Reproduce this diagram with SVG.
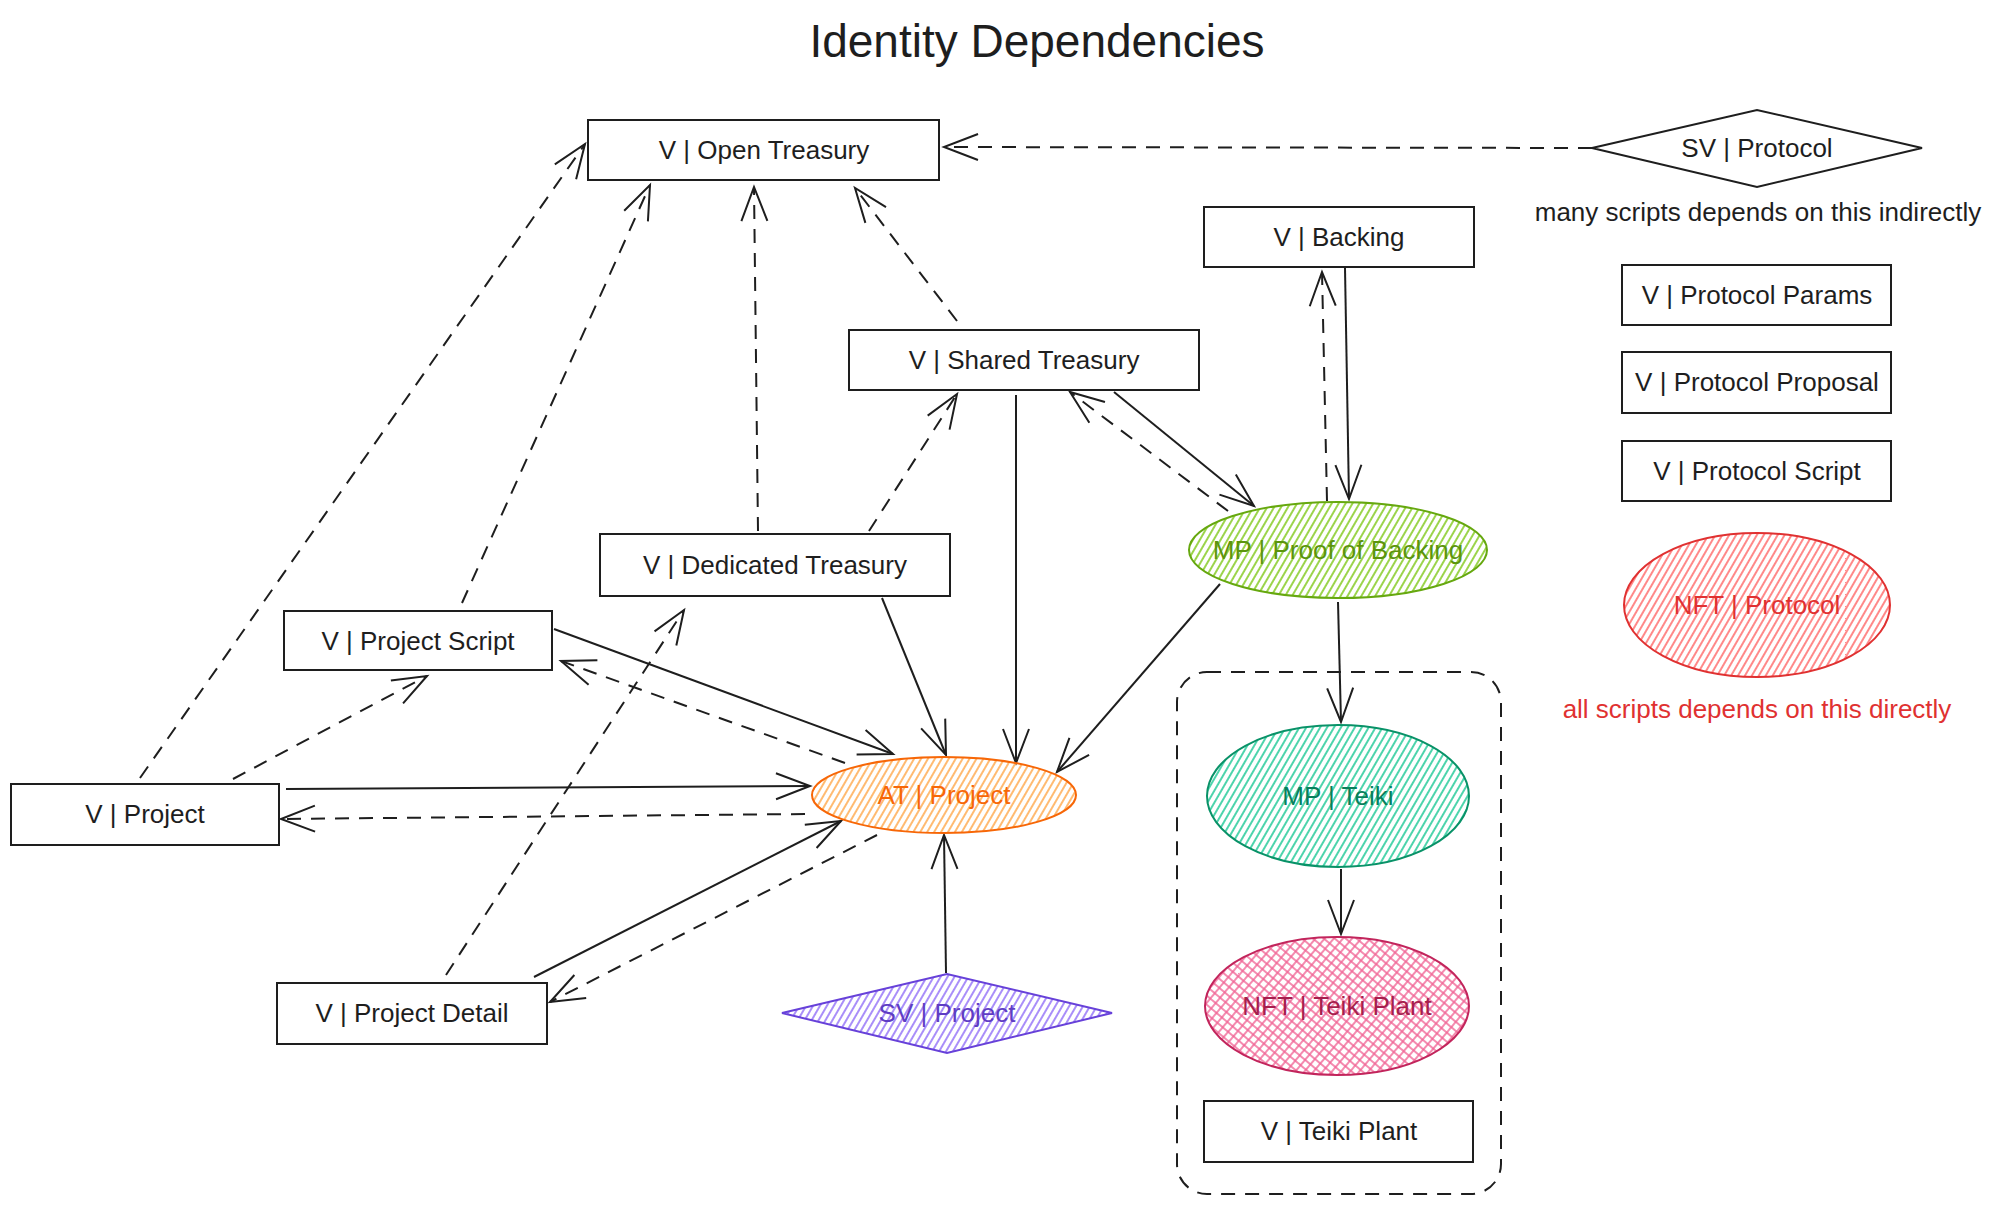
<svg xmlns="http://www.w3.org/2000/svg" width="2000" height="1206" viewBox="0 0 2000 1206">
<style>
text{font-family:"Liberation Sans","DejaVu Sans",sans-serif;font-size:26px;text-anchor:middle;fill:#1e1e1e}
.title{font-size:46px}
.box{fill:#fff;stroke:#1e1e1e;stroke-width:2}
.c{fill:none;stroke:#1e1e1e;stroke-width:2;marker-end:url(#ah)}
.d{stroke-dasharray:14 10}
.grp{fill:none;stroke:#1e1e1e;stroke-width:2;stroke-dasharray:14 10}
</style>
<defs>
<marker id="ah" markerUnits="userSpaceOnUse" markerWidth="40" markerHeight="32" refX="37" refY="16" orient="auto" viewBox="0 0 40 32">
<path d="M3,3 L37,16 L3,29" fill="none" stroke="#1e1e1e" stroke-width="2"/>
</marker>
<pattern id="hOr" patternUnits="userSpaceOnUse" width="6" height="6" patternTransform="rotate(30)"><line x1="1" y1="0" x2="1" y2="6" stroke="#ffa94d" stroke-width="1.6"/></pattern>
<pattern id="hGr" patternUnits="userSpaceOnUse" width="6" height="6" patternTransform="rotate(30)"><line x1="1" y1="0" x2="1" y2="6" stroke="#82c91e" stroke-width="1.6"/></pattern>
<pattern id="hTe" patternUnits="userSpaceOnUse" width="6" height="6" patternTransform="rotate(30)"><line x1="1" y1="0" x2="1" y2="6" stroke="#20c997" stroke-width="1.6"/></pattern>
<pattern id="hRe" patternUnits="userSpaceOnUse" width="6" height="6" patternTransform="rotate(30)"><line x1="1" y1="0" x2="1" y2="6" stroke="#ff6b6b" stroke-width="1.6"/></pattern>
<pattern id="hVi" patternUnits="userSpaceOnUse" width="6" height="6" patternTransform="rotate(30)"><line x1="1" y1="0" x2="1" y2="6" stroke="#845ef7" stroke-width="1.4"/></pattern>
<pattern id="hCr" patternUnits="userSpaceOnUse" width="7" height="7" patternTransform="rotate(40)"><line x1="1" y1="0" x2="1" y2="7" stroke="#f06595" stroke-width="1.5"/><line x1="0" y1="1" x2="7" y2="1" stroke="#f06595" stroke-width="1.5"/></pattern>
</defs>
<rect width="2000" height="1206" fill="#fff"/>

<text class="title" x="1037" y="57">Identity Dependencies</text>

<g id="connectors">
<line class="c d" x1="1592" y1="148" x2="944" y2="147"/>
<line class="c d" x1="140" y1="778" x2="585" y2="144"/>
<line class="c d" x1="462" y1="603" x2="650" y2="185"/>
<line class="c d" x1="758" y1="531" x2="754" y2="187"/>
<line class="c d" x1="957" y1="321" x2="855" y2="188"/>
<line class="c d" x1="869" y1="531" x2="957" y2="394"/>
<line class="c" x1="1016" y1="395" x2="1016" y2="763"/>
<line class="c" x1="1114" y1="392" x2="1254" y2="506"/>
<line class="c d" x1="1228" y1="511" x2="1070" y2="392"/>
<line class="c" x1="1345" y1="268" x2="1349" y2="499"/>
<line class="c d" x1="1327" y1="501" x2="1322" y2="272"/>
<line class="c" x1="1220" y1="584" x2="1057" y2="772"/>
<line class="c" x1="1338" y1="602" x2="1341" y2="722"/>
<line class="c" x1="1341" y1="869" x2="1341" y2="934"/>
<line class="c" x1="882" y1="598" x2="946" y2="755"/>
<line class="c" x1="554" y1="629" x2="893" y2="754"/>
<line class="c d" x1="845" y1="763" x2="561" y2="661"/>
<line class="c d" x1="233" y1="779" x2="427" y2="676"/>
<line class="c" x1="286" y1="789" x2="810" y2="786"/>
<line class="c d" x1="805" y1="814" x2="281" y2="819"/>
<line class="c d" x1="446" y1="975" x2="684" y2="610"/>
<line class="c" x1="534" y1="977" x2="841" y2="821"/>
<line class="c d" x1="877" y1="835" x2="550" y2="1002"/>
<line class="c" x1="946" y1="973" x2="944" y2="835"/>
</g>

<g id="open-treasury"><rect class="box" x="588" y="120" width="351" height="60"/><text x="764" y="159">V | Open Treasury</text></g>
<g id="sv-protocol"><polygon points="1592,148 1757,110 1922,148 1757,187" fill="#fff" stroke="#1e1e1e" stroke-width="2"/><text x="1757" y="157">SV | Protocol</text></g>
<text x="1758" y="221">many scripts depends on this indirectly</text>
<g id="backing"><rect class="box" x="1204" y="207" width="270" height="60"/><text x="1339" y="246">V | Backing</text></g>
<g id="protocol-params"><rect class="box" x="1622" y="265" width="269" height="60"/><text x="1757" y="304">V | Protocol Params</text></g>
<g id="protocol-proposal"><rect class="box" x="1622" y="352" width="269" height="61"/><text x="1757" y="391">V | Protocol Proposal</text></g>
<g id="protocol-script"><rect class="box" x="1622" y="441" width="269" height="60"/><text x="1757" y="480">V | Protocol Script</text></g>
<g id="nft-protocol"><ellipse cx="1757" cy="605" rx="133" ry="72" fill="url(#hRe)" stroke="#e03131" stroke-width="2"/><text x="1757" y="614" style="fill:#e03131">NFT | Protocol</text></g>
<text x="1757" y="718" style="fill:#e03131">all scripts depends on this directly</text>
<g id="shared-treasury"><rect class="box" x="849" y="330" width="350" height="60"/><text x="1024" y="369">V | Shared Treasury</text></g>
<g id="proof-of-backing"><ellipse cx="1338" cy="550" rx="149" ry="48" fill="url(#hGr)" stroke="#66a80f" stroke-width="2"/><text x="1338" y="559" style="fill:#5c940d">MP | Proof of Backing</text></g>
<g id="dedicated-treasury"><rect class="box" x="600" y="534" width="350" height="62"/><text x="775" y="574">V | Dedicated Treasury</text></g>
<g id="project-script"><rect class="box" x="284" y="611" width="268" height="59"/><text x="418" y="650">V | Project Script</text></g>
<g id="project"><rect class="box" x="11" y="784" width="268" height="61"/><text x="145" y="823">V | Project</text></g>
<g id="at-project"><ellipse cx="944" cy="795" rx="132" ry="38" fill="url(#hOr)" stroke="#f76707" stroke-width="2"/><text x="944" y="804" style="fill:#f76707">AT | Project</text></g>
<g id="project-detail"><rect class="box" x="277" y="983" width="270" height="61"/><text x="412" y="1022">V | Project Detail</text></g>
<g id="sv-project"><polygon points="782,1013 947,974 1112,1013 947,1053" fill="url(#hVi)" stroke="#6741d9" stroke-width="2"/><text x="947" y="1022" style="fill:#5f3dc4">SV | Project</text></g>
<g id="teiki-group"><rect class="grp" x="1177" y="672" width="324" height="522" rx="30"/></g>
<g id="mp-teiki"><ellipse cx="1338" cy="796" rx="131" ry="71" fill="url(#hTe)" stroke="#099268" stroke-width="2"/><text x="1338" y="805" style="fill:#087f5b">MP | Teiki</text></g>
<g id="nft-teiki-plant"><ellipse cx="1337" cy="1006" rx="132" ry="69" fill="url(#hCr)" stroke="#c2255c" stroke-width="2"/><text x="1337" y="1015" style="fill:#a61e4d">NFT | Teiki Plant</text></g>
<g id="v-teiki-plant"><rect class="box" x="1204" y="1101" width="269" height="61"/><text x="1339" y="1140">V | Teiki Plant</text></g>
</svg>
